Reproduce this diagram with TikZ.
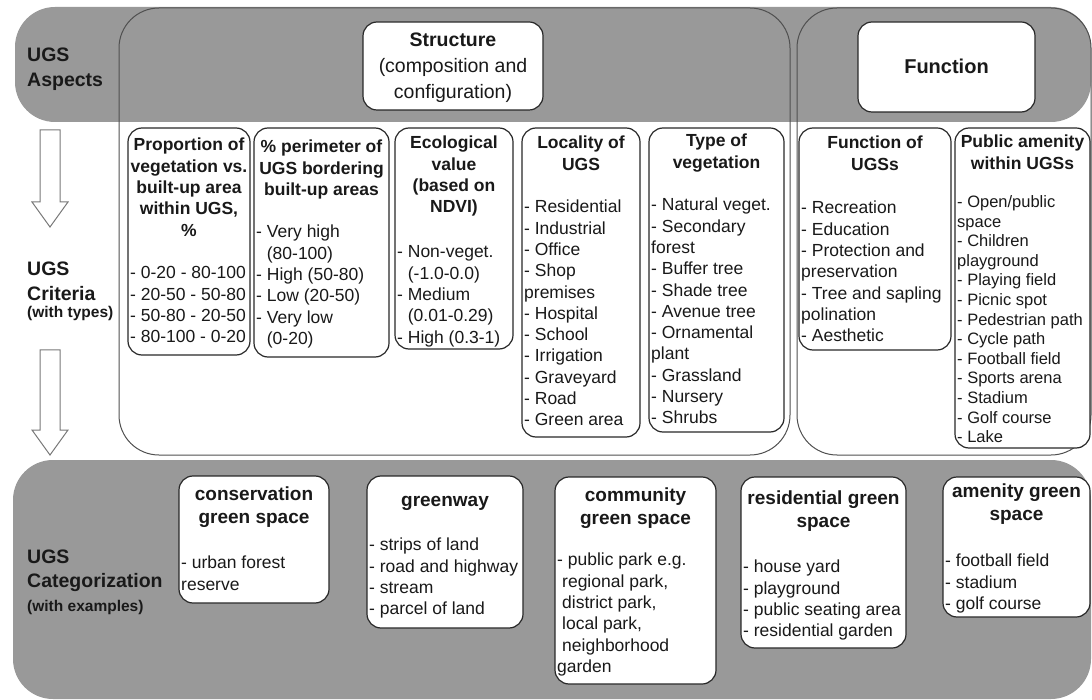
\documentclass[tikz,border=0pt]{standalone}
\usepackage{fontspec}
\setmainfont{Liberation Sans}
\definecolor{bandgray}{RGB}{153,153,153}
\definecolor{boxline}{RGB}{40,40,40}
\definecolor{arealine}{RGB}{80,80,80}
\definecolor{arrowline}{RGB}{120,120,120}
\definecolor{txt}{RGB}{25,25,25}
\newcommand{\gbox}[6][]{\node[#1, minimum width={(#5)-(#3)}, minimum height={(#6)-(#4)}] (#2) at ({((#3)+(#5))/2},{((#4)+(#6))/2}) {};}
\begin{document}
\begin{tikzpicture}[x=1pt,y=-1pt,
  band/.style={fill=bandgray, draw=none, rounded corners=40pt, inner sep=0pt, outer sep=0pt},
  area/.style={draw=arealine, line width=1pt, rounded corners=40pt, inner sep=0pt, outer sep=0pt},
  wbox/.style={draw=boxline, fill=white, line width=1.2pt, rounded corners=14pt, inner sep=0pt, outer sep=0pt},
  chead/.style={font=\fontsize{17.5}{21.3}\selectfont\bfseries, align=center, inner sep=0pt, anchor=north, text=txt},
  clist/.style={font=\fontsize{17.5}{21.3}\selectfont, align=left, inner sep=0pt, anchor=north west, text=txt},
  slist/.style={font=\fontsize{16.5}{19.6}\selectfont, align=left, inner sep=0pt, anchor=north west, text=txt},
  bhead/.style={font=\fontsize{19}{23}\selectfont\bfseries, align=center, inner sep=0pt, anchor=north, text=txt},
  rowlab/.style={font=\fontsize{19.5}{24.5}\selectfont\bfseries, align=left, inner sep=0pt, anchor=north west, text=txt},
  sublab/.style={font=\fontsize{15.5}{19}\selectfont\bfseries, inner sep=0pt, anchor=base west, text=txt},
  barrow/.style={draw=arrowline, fill=white, line width=1pt, line join=miter},
]
\useasboundingbox (0,0) rectangle (1092,700);

% bands
\gbox[band]{topband}{15}{7}{1091}{122}
\gbox[band]{botband}{13}{460}{1091}{699}

% aspect areas
\gbox[area]{structarea}{119}{8}{790}{455}
\gbox[area]{funcarea}{797}{8}{1091}{455}

% header boxes
\gbox[wbox]{structbox}{363}{22}{543}{110}
\gbox[wbox]{funcbox}{858}{22}{1035}{112}
\node[font=\fontsize{19.5}{26}\selectfont, align=center, inner sep=0pt, anchor=north, text=txt] (structtxt) at (453,28.2)
  {\strut\textbf{Structure}\\(composition and\\configuration)};
\node[font=\fontsize{20}{24}\selectfont\bfseries, inner sep=0pt, anchor=base, text=txt] (functxt) at (946.5,74) {Function};

% row labels
\node[rowlab] (lab1) at (27,44.3) {\strut UGS\\Aspects};
\node[rowlab] (lab2) at (27,258.3) {\strut UGS\\Criteria};
\node[sublab] (lab2b) at (27,318) {(with types)};
\node[rowlab] (lab3) at (27,545.8) {\strut UGS\\Categorization};
\node[sublab] (lab3b) at (27,611) {(with examples)};

% block arrows
\draw[barrow] (40,130) -- (60,130) -- (60,202) -- (68,202) -- (50,227) -- (32,202) -- (40,202) -- cycle;
\draw[barrow] (40,350) -- (60,350) -- (60,430) -- (68,430) -- (50,455) -- (32,430) -- (40,430) -- cycle;

% criteria boxes
\gbox[wbox]{c1}{128}{128}{250}{355}
\gbox[wbox]{c2}{254}{128}{389}{357}
\gbox[wbox]{c3}{395}{128}{513}{349}
\gbox[wbox]{c4}{522}{128}{640}{437}
\gbox[wbox]{c5}{649}{128}{784}{432}
\gbox[wbox]{c6}{799}{128}{951}{350}
\gbox[wbox]{c7}{955}{128}{1090}{448}

\node[chead] (c1h) at (189,135.7) {\strut Proportion of\\vegetation vs.\\built-up area\\within UGS,\\\%};
\node[clist] (c1l) at (130,263.7) {\strut - 0-20 - 80-100\\- 20-50 - 50-80\\- 50-80 - 20-50\\- 80-100 - 0-20};

\node[chead] (c2h) at (321.5,137.7) {\strut \% perimeter of\\UGS bordering\\built-up areas};
\node[clist] (c2l) at (256,222.7) {\strut - Very high\\\phantom{-\ }(80-100)\\- High (50-80)\\- Low (20-50)\\- Very low\\\phantom{-\ }(0-20)};

\node[chead] (c3h) at (454,133.7) {\strut Ecological\\value\\(based on\\NDVI)};
\node[clist] (c3l) at (397,242.7) {\strut - Non-veget.\\\phantom{-\ }(-1.0-0.0)\\- Medium\\\phantom{-\ }(0.01-0.29)\\- High (0.3-1)};

\node[chead] (c4h) at (581,133.7) {\strut Locality of\\UGS};
\node[clist] (c4l) at (524,197.7) {\strut - Residential\\- Industrial\\- Office\\- Shop\\premises\\- Hospital\\- School\\- Irrigation\\- Graveyard\\- Road\\- Green area};

\node[chead] (c5h) at (716.5,131.7) {\strut Type of\\vegetation};
\node[clist] (c5l) at (651,195.7) {\strut - Natural veget.\\- Secondary\\forest\\- Buffer tree\\- Shade tree\\- Avenue tree\\- Ornamental\\plant\\- Grassland\\- Nursery\\- Shrubs};

\node[chead] (c6h) at (875,133.7) {\strut Function of\\UGSs};
\node[clist] (c6l) at (801,198.7) {\strut - Recreation\\- Education\\- Protection and\\preservation\\- Tree and sapling\\polination\\- Aesthetic};

\node[chead] (c7h) at (1022.5,132.7) {\strut Public amenity\\within UGSs};
\node[slist] (c7l) at (957,193.6) {\strut - Open/public\\space\\- Children\\playground\\- Playing field\\- Picnic spot\\- Pedestrian path\\- Cycle path\\- Football field\\- Sports arena\\- Stadium\\- Golf course\\- Lake};

% categorization boxes
\gbox[wbox]{g1}{179}{476}{329}{603}
\gbox[wbox]{g2}{367}{476}{523}{628}
\gbox[wbox]{g3}{555}{477}{716}{684}
\gbox[wbox]{g4}{741}{477}{906}{648}
\gbox[wbox]{g5}{943}{477}{1090}{617}

\node[bhead] (g1h) at (254,484.2) {\strut conservation\\green space};
\node[clist] (g1l) at (181,553.7) {\strut - urban forest\\reserve};

\node[bhead] (g2h) at (445,490.2) {\strut greenway};
\node[clist] (g2l) at (369,535.7) {\strut - strips of land\\- road and highway\\- stream\\- parcel of land};

\node[bhead] (g3h) at (635.5,485.2) {\strut community\\green space};
\node[clist] (g3l) at (557,550.7) {\strut - public park e.g.\\\hspace*{5pt}regional park,\\\hspace*{5pt}district park,\\\hspace*{5pt}local park,\\\hspace*{5pt}neighborhood\\garden};

\node[bhead] (g4h) at (823.5,488.2) {\strut residential green\\space};
\node[clist] (g4l) at (743,557.7) {\strut - house yard\\- playground\\- public seating area\\- residential garden};

\node[bhead] (g5h) at (1016.5,481.2) {\strut amenity green\\space};
\node[clist] (g5l) at (945,551.7) {\strut - football field\\- stadium\\- golf course};
\end{tikzpicture}
\end{document}
